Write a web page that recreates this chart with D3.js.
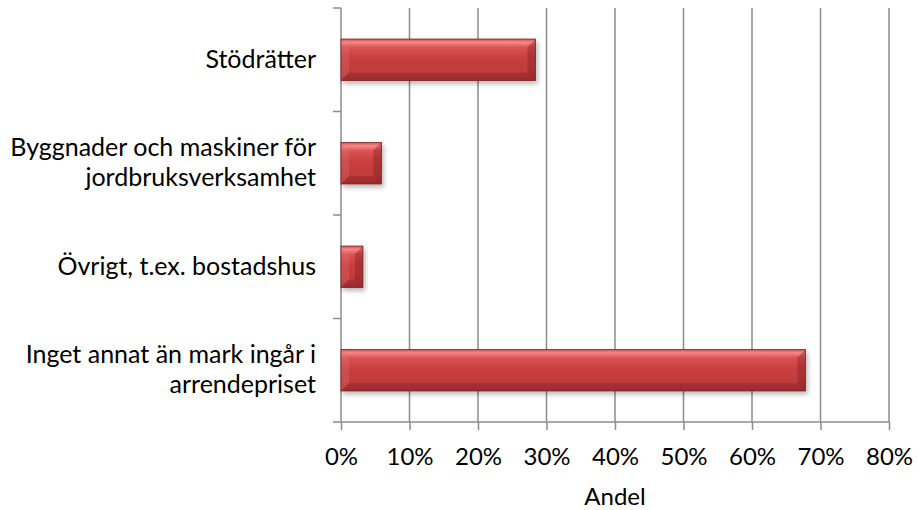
<!DOCTYPE html>
<html><head><meta charset="utf-8">
<script src="https://cdn.jsdelivr.net/npm/d3@7"></script>
<style>body{margin:0;background:#fff}svg text{font-family:Lato,"Open Sans",sans-serif;fill:#000}</style>
</head><body><svg id="c" width="919" height="510"></svg>
<script>
const categories = [["Stödrätter"],["Byggnader och maskiner för","jordbruksverksamhet"],["Övrigt, t.ex. bostadshus"],["Inget annat än mark ingår i","arrendepriset"]];
const values = [28.4, 5.9, 3.2, 67.8];
const tickValues = [0,10,20,30,40,50,60,70,80];
const xTitle = "Andel";

const svg = d3.select("#c");
const m = {l:341, r:889, t:8, b:422};
const x = d3.scaleLinear().domain([0,80]).range([m.l, m.r]);
const y = d3.scaleBand().domain(d3.range(categories.length)).range([m.t, m.b]).paddingInner(0.6).paddingOuter(0.3);
const band = (m.b - m.t)/categories.length;

const defs = svg.append("defs");
const g1 = defs.append("linearGradient").attr("id","gv").attr("x1",0).attr("y1",0).attr("x2",0).attr("y2",1);
[[0,"#d9504f"],[0.08,"#f4898a"],[0.2,"#dc5354"],[0.45,"#c93f40"],[0.8,"#c03a3b"],[1,"#a93132"]].forEach(s=>g1.append("stop").attr("offset",s[0]).attr("stop-color",s[1]));
const f = defs.append("filter").attr("id","sh").attr("x","-10%").attr("y","-20%").attr("width","130%").attr("height","160%");
f.append("feGaussianBlur").attr("in","SourceAlpha").attr("stdDeviation",2.5);
f.append("feOffset").attr("dx",2).attr("dy",3).attr("result","b");
f.append("feComponentTransfer").append("feFuncA").attr("type","linear").attr("slope",0.28);
const fm = f.append("feMerge"); fm.append("feMergeNode"); fm.append("feMergeNode").attr("in","SourceGraphic");

// gridlines
svg.append("g").selectAll("line").data(tickValues.filter(d=>d>0)).join("line")
  .attr("x1",d=>x(d)).attr("x2",d=>x(d)).attr("y1",m.t).attr("y2",m.b)
  .attr("stroke","#8c8c8c").attr("stroke-width",1.5);

// x axis
const xa = svg.append("g").attr("transform",`translate(0,${m.b})`)
  .call(d3.axisBottom(x).tickValues(tickValues).tickFormat(d=>d+"%").tickSize(8));
xa.select(".domain").attr("stroke","#8c8c8c").attr("stroke-width",1.5).attr("d",`M${m.l},0H${m.r}`);
xa.selectAll(".tick line").attr("stroke","#8c8c8c").attr("stroke-width",1.5);
xa.selectAll("text").attr("font-size",24).attr("font-family","Lato,sans-serif").attr("fill","#000").attr("y",465-m.b).attr("dy",0);

// y axis
const ya = svg.append("g").attr("transform",`translate(${m.l},0)`);
ya.append("line").attr("x1",0).attr("x2",0).attr("y1",m.t).attr("y2",m.b).attr("stroke","#8c8c8c").attr("stroke-width",1.5);
ya.selectAll("line.t").data(d3.range(categories.length+1)).join("line").attr("class","t")
  .attr("x1",-8).attr("x2",0).attr("y1",i=>m.t+i*band).attr("y2",i=>m.t+i*band)
  .attr("stroke","#8c8c8c").attr("stroke-width",1.5);

// labels
const lab = svg.append("g").selectAll("text").data(categories).join("text")
  .attr("text-anchor","end").attr("font-size",25)
  .attr("transform",(d,i)=>`translate(316,${y(i)+y.bandwidth()/2})`);
lab.each(function(d){
  const t=d3.select(this); const n=d.length; const lh=30;
  d.forEach((s,k)=>t.append("tspan").attr("x",0).attr("y",(k-(n-1)/2)*lh+8).text(s));
});

// bars
const bars = svg.append("g").selectAll("g").data(values).join("g").attr("filter","url(#sh)");
bars.each(function(v,i){
  const g=d3.select(this);
  const x0=x(0), x1=x(v), y0=y(i), h=y.bandwidth(), y1=y0+h;
  const b=Math.min(8,(x1-x0)/2.5);
  g.append("rect").attr("x",x0).attr("y",y0).attr("width",x1-x0).attr("height",h).attr("fill","url(#gv)");
  g.append("path").attr("d",`M${x0},${y1}L${x1},${y1}L${x1-b},${y1-b}L${x0+b},${y1-b}Z`).attr("fill","#8a2426").attr("opacity",0.4);
  g.append("path").attr("d",`M${x0},${y0}L${x0+b},${y0+b}L${x0+b},${y1-b}L${x0},${y1}Z`).attr("fill","#e87072").attr("opacity",0.3);
  g.append("path").attr("d",`M${x1},${y0}L${x1-b},${y0+b}L${x1-b},${y1-b}L${x1},${y1}Z`).attr("fill","#7a1e20").attr("opacity",0.4);
  g.append("rect").attr("x",x0).attr("y",y0).attr("width",x1-x0).attr("height",h).attr("fill","none").attr("stroke","#7d2224").attr("stroke-width",0.8);
});

svg.append("text").attr("x",(m.l+m.r)/2).attr("y",505).attr("text-anchor","middle").attr("font-size",24).text(xTitle);
</script></body></html>
